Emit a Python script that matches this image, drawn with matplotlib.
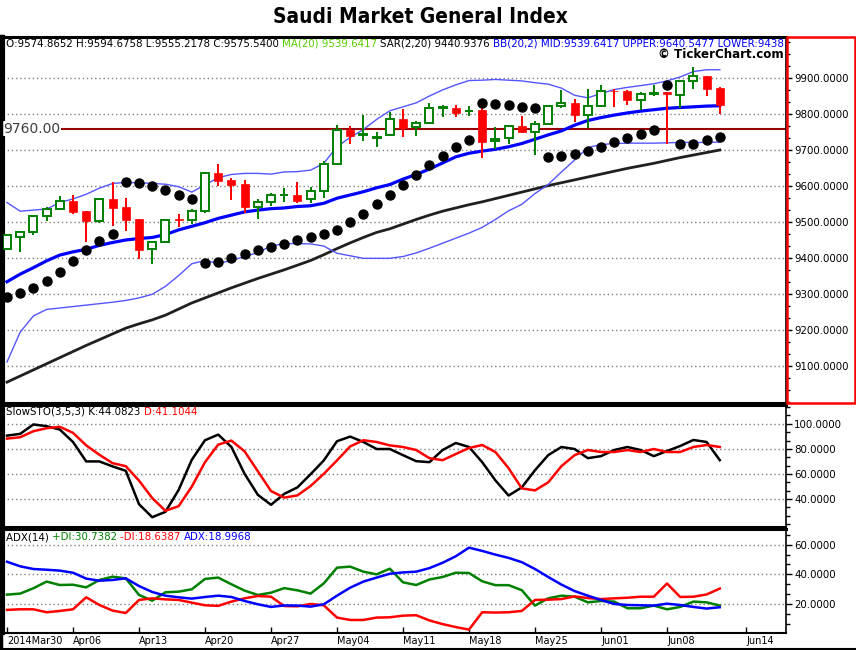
import numpy as np
import matplotlib
matplotlib.use("Agg")
import matplotlib.pyplot as plt
from matplotlib.patches import Rectangle
from matplotlib.ticker import FixedLocator, MultipleLocator, FormatStrFormatter

W, H, DPI = 856, 650, 100

# ---------- data ----------
# 55 trading days, Sun-Thu, 2014-03-30 .. 2014-06-12
opens = [9425, 9460, 9474, 9517, 9538, 9559, 9531, 9505, 9565, 9543,
         9509, 9425, 9446, 9508, 9506, 9531, 9637, 9618, 9606, 9544,
         9556, 9574.87, 9575, 9564, 9586, 9661, 9756, 9744, 9735, 9744,
         9786, 9764, 9775, 9818, 9819, 9809, 9812, 9725, 9733, 9767,
         9750, 9772, 9823, 9831, 9797, 9822, 9866, 9865, 9839, 9858,
         9861, 9853, 9893, 9906, 9873]
highs = [9464, 9472, 9517, 9544, 9573, 9577, 9531, 9567, 9612, 9568,
         9509, 9449, 9506, 9522, 9537, 9641, 9662, 9622, 9619, 9565,
         9581, 9594.68, 9612, 9597, 9670, 9771, 9768, 9799, 9751, 9807,
         9815, 9781, 9831, 9826, 9826, 9823, 9823, 9765, 9767, 9795,
         9781, 9826, 9868, 9842, 9870, 9881, 9870, 9868, 9861, 9881,
         9862, 9893, 9933, 9906, 9875]
lows = [9425, 9418, 9466, 9505, 9538, 9523, 9444, 9497, 9491, 9477,
        9397, 9385, 9446, 9486, 9495, 9527, 9601, 9563, 9527, 9508,
        9546, 9555.22, 9555, 9554, 9569, 9659, 9719, 9727, 9710, 9744,
        9738, 9741, 9775, 9794, 9794, 9796, 9680, 9705, 9719, 9749,
        9688, 9772, 9819, 9779, 9763, 9822, 9821, 9827, 9813, 9851,
        9717, 9817, 9871, 9852, 9800]
closes = [9464, 9472, 9517, 9538, 9558, 9530, 9505, 9564, 9541, 9507,
          9424, 9445, 9506, 9506, 9531, 9637, 9616, 9605, 9544, 9556,
          9575, 9575.54, 9560, 9586, 9662, 9756, 9741, 9745, 9736, 9786,
          9762, 9775, 9817, 9819, 9805, 9810, 9724, 9731, 9767, 9751,
          9772, 9823, 9831, 9799, 9822, 9864, 9864, 9839, 9856, 9859,
          9856, 9893, 9906, 9871, 9827]

ma20 = [9335, 9356, 9374, 9393, 9409, 9418, 9425, 9436, 9444, 9451,
        9455, 9458, 9466, 9479, 9489, 9499, 9511, 9520, 9529, 9534,
        9538, 9540, 9544, 9546, 9553, 9567, 9576, 9585, 9596, 9605,
        9620, 9633, 9648, 9665, 9682, 9692, 9698, 9703, 9710, 9719,
        9731, 9743, 9754, 9770, 9783, 9791, 9798, 9804, 9809, 9813,
        9817, 9819, 9821, 9823, 9824]
bb_upper = [9555, 9531, 9534, 9537, 9555, 9565, 9578, 9595, 9608, 9611,
            9610, 9608, 9606, 9599, 9584, 9604, 9624, 9633, 9636, 9636,
            9634, 9640, 9641, 9645, 9664, 9710, 9736, 9758, 9786, 9810,
            9821, 9832, 9851, 9868, 9882, 9894, 9895, 9897, 9895, 9893,
            9888, 9884, 9873, 9853, 9846, 9858, 9869, 9875, 9880, 9885,
            9893, 9904, 9919, 9924, 9924]
bb_lower = [9112, 9195, 9240, 9258, 9262, 9266, 9270, 9274, 9278, 9283,
            9290, 9300, 9322, 9352, 9385, 9394, 9386, 9394, 9405, 9416,
            9434, 9441, 9441, 9440, 9434, 9414, 9407, 9400, 9400, 9400,
            9405, 9415, 9428, 9442, 9456, 9470, 9486, 9508, 9532, 9550,
            9580, 9605, 9640, 9673, 9708, 9716, 9719, 9720, 9720, 9720,
            9721, 9722, 9722, 9722, 9723]
ma_long = [9056, 9073, 9090, 9107, 9124, 9141, 9158, 9174, 9190, 9206,
           9218, 9229, 9242, 9259, 9276, 9290, 9304, 9318, 9331, 9344,
           9356, 9368, 9381, 9394, 9410, 9427, 9443, 9458, 9472, 9482,
           9495, 9508, 9520, 9531, 9540, 9549, 9557, 9566, 9575, 9584,
           9593, 9602, 9610, 9618, 9626, 9634, 9642, 9650, 9657, 9664,
           9672, 9680, 9687, 9694, 9701]
sar = [9293, 9303, 9318, 9337, 9361, 9392, 9422, 9447, 9467, 9613,
       9610, 9602, 9589, 9577, 9566, 9386, 9390, 9401, 9412, 9422,
       9431, 9441, 9450, 9459, 9467, 9479, 9501, 9524, 9551, 9576,
       9604, 9632, 9658, 9685, 9709, 9729, 9831, 9828, 9825, 9821,
       9819, 9681, 9683, 9691, 9697, 9708, 9722, 9735, 9746, 9756,
       9881, 9718, 9719, 9729, 9737]

stoch_k = [90.6, 92.0, 99.5, 98.1, 95.4, 85.5, 70.0, 70.0, 66.0, 62.5,
           35.9, 25.5, 29.8, 47.2, 71.3, 86.9, 91.4, 81.5, 60.1, 43.4,
           35.4, 44.1, 49.3, 59.8, 70.8, 86.1, 89.8, 85.5, 79.9, 79.9,
           75.0, 70.2, 69.4, 79.1, 84.7, 81.5, 69.4, 54.9, 42.8, 49.3,
           63.0, 75.0, 81.5, 79.9, 72.6, 74.2, 79.1, 81.5, 79.1, 74.2,
           78.3, 82.3, 87.1, 85.5, 71.0]
stoch_d = [88.2, 89.3, 94.1, 96.5, 97.6, 92.8, 82.8, 75.3, 68.6, 66.2,
           54.7, 40.8, 30.6, 34.3, 49.9, 69.4, 83.4, 86.6, 78.0, 62.2,
           46.4, 41.1, 42.9, 50.4, 60.1, 70.8, 82.0, 86.9, 85.5, 82.8,
           81.5, 79.1, 72.6, 71.0, 75.9, 80.7, 83.1, 77.5, 64.6, 48.5,
           46.9, 53.3, 66.2, 75.0, 79.1, 77.5, 77.5, 79.1, 77.5, 79.9,
           77.5, 77.5, 81.5, 83.1, 81.5]

plus_di = [26.3, 27.0, 30.6, 35.1, 32.8, 33.0, 31.2, 36.2, 38.4, 37.3,
           26.1, 22.2, 27.9, 28.3, 29.9, 36.9, 37.8, 33.3, 29.0, 26.1,
           27.6, 30.7, 29.2, 27.0, 33.9, 44.5, 45.2, 41.8, 40.0, 43.8,
           34.6, 32.8, 36.5, 38.2, 41.1, 40.9, 35.3, 32.7, 32.7, 29.3,
           18.9, 23.8, 25.6, 24.9, 21.1, 22.0, 21.6, 17.1, 17.1, 18.9,
           16.4, 18.0, 21.6, 21.1, 18.9]
minus_di = [16.0, 16.4, 16.4, 14.4, 15.3, 16.4, 24.5, 19.3, 15.5, 13.9,
            22.7, 23.8, 23.1, 22.7, 20.9, 19.1, 18.7, 21.6, 23.8, 25.4,
            24.9, 18.6, 18.4, 20.0, 19.1, 10.8, 9.2, 9.2, 10.8, 11.0,
            12.1, 12.4, 8.9, 6.4, 4.4, 2.7, 14.4, 14.2, 14.4, 15.3,
            22.7, 22.9, 23.3, 25.1, 24.0, 23.3, 23.8, 24.2, 24.9, 24.9,
            33.8, 24.7, 24.9, 26.4, 30.4]
adx = [48.5, 45.4, 43.6, 43.1, 42.5, 41.1, 37.1, 35.7, 36.2, 37.3,
       32.1, 28.1, 25.6, 24.5, 23.6, 24.7, 25.6, 24.7, 22.0, 19.8,
       18.0, 19.0, 18.9, 18.2, 19.8, 25.6, 31.0, 35.1, 37.8, 40.4,
       41.3, 41.8, 44.2, 47.8, 52.2, 58.0, 55.8, 53.3, 51.1, 48.2,
       43.6, 38.2, 33.1, 28.7, 25.6, 22.7, 20.0, 19.3, 19.1, 18.9,
       20.2, 19.3, 18.0, 16.9, 17.8]

tick_pos = [0, 5, 10, 15, 20, 25, 30, 35, 40, 45, 50, 56]
tick_labels = ["2014Mar30", "Apr06", "Apr13", "Apr20", "Apr27", "May04",
               "May11", "May18", "May25", "Jun01", "Jun08", "Jun14"]
price_ticks = [9100, 9200, 9300, 9400, 9500, 9600, 9700, 9800, 9900]
stoch_ticks = [40, 60, 80, 100]
adx_ticks = [20, 40, 60]
alert_level = 9760

# ---------- style ----------
GREEN = "#008000"
RED = "#ff0000"
BLUE = "#0000ff"
SMALL = 7.4
plt.rcParams["font.family"] = ["DejaVu Sans"]

fig = plt.figure(figsize=(W / DPI, H / DPI), dpi=DPI)

def px_axes(x0, y0, x1, y1):
    return fig.add_axes([x0 / W, 1 - y1 / H, (x1 - x0) / W, (y1 - y0) / H])

X0, X1 = 3, 786
ax_p = px_axes(X0, 37, X1, 403)
ax_s = px_axes(X0, 405, X1, 527)
ax_a = px_axes(X0, 529, X1, 633)

step = 13.2  # pixels per trading day
xmin = -4 / step
xmax = xmin + (X1 - X0) / step
x = np.arange(len(closes))

def style_panel(ax, ylim, ticks, minor):
    ax.set_xlim(xmin, xmax)
    ax.set_ylim(*ylim)
    ax.yaxis.tick_right()
    ax.yaxis.set_major_locator(FixedLocator(ticks))
    ax.yaxis.set_minor_locator(MultipleLocator(minor))
    ax.yaxis.set_major_formatter(FormatStrFormatter("%.4f"))
    ax.tick_params(axis="y", which="major", length=4, width=1, pad=2,
                   labelsize=SMALL, direction="out")
    ax.tick_params(axis="y", which="minor", length=3, width=1, direction="out")
    ax.tick_params(axis="x", which="both", bottom=False, labelbottom=False)
    for t in ticks:
        ax.axhline(t, color="#808080", lw=1, ls=(0, (1, 2)), zorder=0)
    for side, lw in (("left", 3), ("top", 2.2), ("bottom", 1.5), ("right", 1.2)):
        ax.spines[side].set_linewidth(lw)
        ax.spines[side].set_color("black")

style_panel(ax_p, (8998, 10015), price_ticks, 100 / 3)
style_panel(ax_s, (17.7, 115.0), stoch_ticks, 20 / 3)
style_panel(ax_a, (0.4, 70.6), adx_ticks, 20 / 3)

# ---------- price panel ----------
ax_p.plot(x, ma_long, color="#202020", lw=2, zorder=2)
ax_p.plot(x, bb_upper, color="#5555ff", lw=1, zorder=2)
ax_p.plot(x, bb_lower, color="#5555ff", lw=1, zorder=2)
ax_p.plot(x, ma20, color=BLUE, lw=2.3, zorder=2)
ax_p.axhline(alert_level, color="#990000", lw=1.5, zorder=1)

bw = 0.6
for i in range(len(closes)):
    o, hi, lo, c = opens[i], highs[i], lows[i], closes[i]
    top, bot = max(o, c), min(o, c)
    if c >= o:
        ax_p.plot([i, i], [top, hi], color=GREEN, lw=1.4, zorder=3, solid_capstyle="butt")
        ax_p.plot([i, i], [lo, bot], color=GREEN, lw=1.4, zorder=3, solid_capstyle="butt")
        ax_p.add_patch(Rectangle((i - bw / 2, bot), bw, max(top - bot, 1.5),
                                 facecolor="white", edgecolor=GREEN, lw=1.4, zorder=4))
    else:
        ax_p.plot([i, i], [lo, hi], color=RED, lw=1.4, zorder=3, solid_capstyle="butt")
        ax_p.add_patch(Rectangle((i - bw / 2, bot), bw, max(top - bot, 1.5),
                                 facecolor=RED, edgecolor=RED, lw=0.5, zorder=4))

ax_p.plot(x, sar, "o", color="black", ms=6.5, zorder=5)

ax_p.text(0.0, alert_level, "9760.00", transform=ax_p.get_yaxis_transform(),
          ha="left", va="center", fontsize=10, color="#404040", zorder=6,
          bbox=dict(facecolor="white", edgecolor="none", pad=0.5))

# ---------- stochastic ----------
ax_s.plot(x, stoch_k, color="black", lw=1.8)
ax_s.plot(x, stoch_d, color=RED, lw=1.8)

# ---------- ADX ----------
ax_a.plot(x, plus_di, color=GREEN, lw=1.8)
ax_a.plot(x, minus_di, color=RED, lw=1.8)
ax_a.plot(x, adx, color=BLUE, lw=1.8)
ax_a.xaxis.set_major_locator(FixedLocator(tick_pos))
ax_a.set_xticklabels(tick_labels)
ax_a.tick_params(axis="x", which="major", bottom=True, labelbottom=True,
                 direction="in", length=4, width=1, pad=2, labelsize=7.0)
for lab in ax_a.get_xticklabels():
    lab.set_horizontalalignment("left")

# ---------- header texts ----------
def chain_text(ax, y_px, parts, size=SMALL):
    # consecutive coloured pieces on one line, clipped to the panel
    t = ax.text(3 / (X1 - X0), 1 - y_px / ax.bbox.height, parts[0][0],
                transform=ax.transAxes, color=parts[0][1], fontsize=size,
                va="center", ha="left", clip_on=True)
    for s, c in parts[1:]:
        t = ax.annotate(s, xy=(1, 0), xycoords=t, color=c, fontsize=size,
                        va="bottom", ha="left", annotation_clip=False)
        t.set_clip_on(True)
        t.set_clip_box(ax.bbox)

chain_text(ax_p, 7, [
    ("O:9574.8652 H:9594.6758 L:9555.2178 C:9575.5400 ", "black"),
    ("MA(20) 9539.6417 ", "#55cc00"),
    ("SAR(2,20) 9440.9376 ", "black"),
    ("BB(20,2) MID:9539.6417 UPPER:9640.5477 LOWER:9438.7357", BLUE),
])
chain_text(ax_s, 7, [("SlowSTO(3,5,3) K:44.0823 ", "black"), ("D:41.1044", RED)])
chain_text(ax_a, 8, [("ADX(14) ", "black"), ("+DI:30.7382 ", GREEN),
                     ("-DI:18.6387 ", RED), ("ADX:18.9968", BLUE)])

fig.text(784 / W, 1 - 55 / H, "\u00a9 TickerChart.com", ha="right", va="center",
         fontsize=8.6, weight="bold", color="black")

fig.text(420 / W, 1 - 17 / H, "Saudi Market General Index", ha="center", va="center",
         fontsize=15, weight="bold", fontstretch="condensed",
         family=["Liberation Sans Narrow", "DejaVu Sans"])

# red frame around the price scale
fig.patches.append(Rectangle((787 / W, 1 - 403 / H), 68 / W, 366 / H,
                             transform=fig.transFigure, fill=False,
                             edgecolor="red", lw=1.8))
# outer border lines of the chart
fig.add_artist(plt.Line2D([0, 856 / W], [1 - 648.5 / H] * 2, color="black", lw=1.5,
                          transform=fig.transFigure))
fig.add_artist(plt.Line2D([1 / W] * 2, [1 - 648.5 / H, 1 - 36 / H], color="black", lw=2.5,
                          transform=fig.transFigure))

fig.savefig("out.png", dpi=DPI)
